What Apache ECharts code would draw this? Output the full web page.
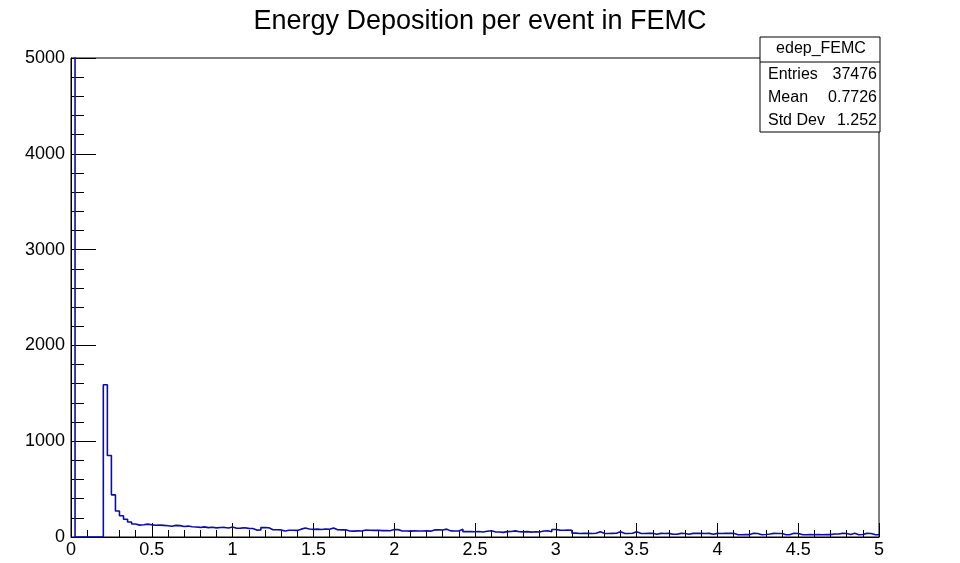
<!DOCTYPE html>
<html>
<head>
<meta charset="utf-8">
<script src="https://cdn.jsdelivr.net/npm/echarts@6/dist/echarts.min.js"></script>
<style>
  html, body { margin: 0; padding: 0; background: #fff; }
  #chart { width: 960px; height: 563px; }
</style>
</head>
<body>
<div id="chart"></div>
<script>
// ---- data ----
const titleText = 'Energy Deposition per event in FEMC';
const xMin = 0;
const xMax = 5;
const binWidth = 0.025;
const yMax = 5000;
const xTickInterval = 0.5;
const yTickInterval = 1000;
// bin contents (200 bins, 0..5); first bin is off-scale
const counts = [
  19000, 0, 0, 0, 0, 0, 0, 0, 1590, 850,
  440, 272, 222, 185, 157, 135, 124, 128, 134, 127,
  122, 124, 121, 117, 113, 121, 119, 110, 114, 107,
  104, 100, 106, 98, 101, 95, 99, 100, 94, 104,
  91, 93, 97, 90, 88, 72, 74, 98, 96, 76,
  75, 74, 62, 70, 71, 69, 82, 94, 83, 80,
  82, 79, 84, 81, 95, 76, 74, 75, 63, 61,
  64, 62, 73, 70, 69, 71, 67, 68, 66, 78,
  77, 63, 62, 61, 64, 63, 62, 64, 61, 74,
  76, 73, 82, 64, 63, 62, 80, 56, 58, 55,
  57, 53, 60, 66, 54, 52, 48, 56, 58, 64,
  55, 53, 56, 51, 54, 52, 62, 66, 55, 78,
  72, 71, 73, 70, 40, 37, 39, 38, 37, 39,
  55, 38, 37, 38, 39, 55, 38, 37, 39, 55,
  38, 37, 38, 39, 28, 38, 37, 38, 28, 29,
  38, 37, 28, 38, 39, 38, 37, 38, 28, 38,
  37, 38, 39, 38, 25, 24, 26, 25, 38, 37,
  24, 26, 31, 38, 37, 36, 24, 25, 38, 37,
  25, 24, 26, 24, 25, 24, 26, 25, 31, 32,
  38, 37, 25, 38, 24, 26, 38, 37, 25, 24
];
const statsName = 'edep_FEMC';
const statsLabels = ['Entries', 'Mean', 'Std Dev'];
const statsValues = ['37476', '0.7726', '1.252'];

// ---- build histogram outline points (bin left edges + final right edge) ----
const histData = counts.map((c, i) => [xMin + i * binWidth, c]);
histData.push([xMax, counts[counts.length - 1]]);

const FONT = 'Liberation Sans, Arial, Helvetica, sans-serif';

const chart = echarts.init(document.getElementById('chart'), null, { renderer: 'canvas' });

const statsGraphics = [
  { type: 'rect', shape: { x: 760, y: 37, width: 120, height: 95 },
    style: { fill: '#fff', stroke: '#000', lineWidth: 1 }, z: 100 },
  { type: 'line', shape: { x1: 760, y1: 62, x2: 880, y2: 62 },
    style: { stroke: '#000', lineWidth: 1 }, z: 101 },
  { type: 'text', x: 821, y: 49, z: 102,
    style: { text: statsName, font: '16px ' + FONT, fill: '#000', align: 'center', verticalAlign: 'middle' } }
];
statsLabels.forEach((lab, i) => {
  const y = 75 + i * 23;
  statsGraphics.push({ type: 'text', x: 768, y: y, z: 102,
    style: { text: lab, font: '16px ' + FONT, fill: '#000', align: 'left', verticalAlign: 'middle' } });
  statsGraphics.push({ type: 'text', x: 877, y: y, z: 102,
    style: { text: statsValues[i], font: '16px ' + FONT, fill: '#000', align: 'right', verticalAlign: 'middle' } });
});

chart.setOption({
  animation: false,
  backgroundColor: '#fff',
  title: {
    text: titleText,
    left: 'center',
    top: 3,
    textStyle: { fontFamily: FONT, fontSize: 27, fontWeight: 'normal', color: '#000' }
  },
  grid: {
    left: 71, right: 81, top: 58, bottom: 26,
    show: true, borderColor: '#000', borderWidth: 1, backgroundColor: 'transparent'
  },
  xAxis: {
    type: 'value',
    min: xMin, max: xMax, interval: xTickInterval,
    axisLine: { show: true, onZero: false, lineStyle: { color: '#000', width: 1 } },
    axisTick: { show: true, inside: true, length: 14, lineStyle: { color: '#000', width: 1 } },
    minorTick: { show: true, splitNumber: 5, length: 7, lineStyle: { color: '#000', width: 1 } },
    splitLine: { show: false },
    axisLabel: {
      show: true, margin: 4, color: '#000', fontFamily: FONT, fontSize: 18,
      showMinLabel: true, showMaxLabel: true,
      formatter: v => String(v)
    }
  },
  yAxis: {
    type: 'value',
    min: 0, max: yMax, interval: yTickInterval,
    axisLine: { show: true, onZero: false, lineStyle: { color: '#000', width: 1 } },
    axisTick: { show: true, inside: true, length: 25, lineStyle: { color: '#000', width: 1 } },
    minorTick: { show: true, splitNumber: 5, length: 13, lineStyle: { color: '#000', width: 1 } },
    splitLine: { show: false },
    axisLabel: {
      show: true, margin: 6, color: '#000', fontFamily: FONT, fontSize: 18,
      showMinLabel: true, showMaxLabel: true,
      formatter: v => String(v)
    }
  },
  series: [{
    type: 'line',
    step: 'end',
    data: histData,
    showSymbol: false,
    symbol: 'none',
    clip: true,
    lineStyle: { color: '#0c0cae', width: 1.6 },
    z: 3
  }],
  graphic: statsGraphics
});
</script>
</body>
</html>
